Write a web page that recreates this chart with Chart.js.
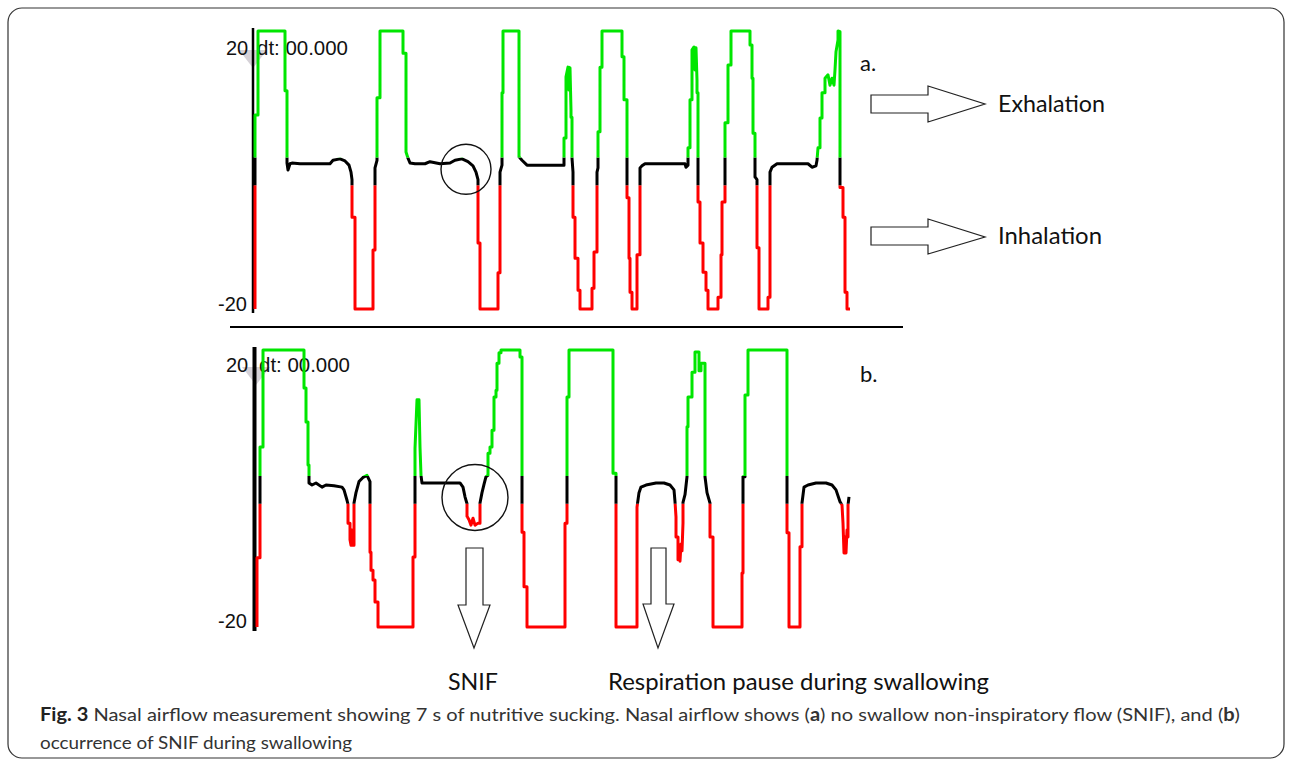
<!DOCTYPE html>
<html lang="en">
<head>
<meta charset="UTF-8">
<title>Nasal airflow measurement</title>
<script src="https://cdn.jsdelivr.net/npm/chart.js"></script>
<style>
    body { margin: 0; background: #fff; }
    #page { position: relative; width: 1292px; height: 768px; overflow: hidden; }
    .panel { position: absolute; width: 630px; height: 300px; }
    svg { position: absolute; left: 0; top: 0; pointer-events: none; }
</style>
</head>
<body>
<div id="page">
    <svg width="1292" height="768" font-family="Lato, 'Open Sans', sans-serif">
        <rect x="8" y="8" width="1276" height="750" rx="14" fill="none" stroke="#333" stroke-width="1.2"/>
        <line x1="230" y1="327" x2="903" y2="327" stroke="#000" stroke-width="2"/>

        <!-- cursor markers -->
        <polygon points="239,50 267,50 253,68" fill="#b9b2bd" opacity="0.6"/>
        <polygon points="242,367 270,367 256,385" fill="#b9b2bd" opacity="0.6"/>

        <!-- axis labels -->
        <g font-family="'Liberation Sans', Arial, sans-serif" font-size="20" fill="#111">
            <text x="226" y="55">20</text>
            <text x="257" y="55" textLength="91" lengthAdjust="spacingAndGlyphs">dt: 00.000</text>
            <text x="218" y="311">-20</text>
            <text x="226" y="372">20</text>
            <text x="259" y="372" textLength="91" lengthAdjust="spacingAndGlyphs">dt: 00.000</text>
            <text x="218" y="628">-20</text>
        </g>

        <!-- panel a annotations -->
        <text x="860" y="71" font-size="22" fill="#111">a.</text>
        <polygon points="871,95 928,95 928,86 985,104 928,122 928,113 871,113" fill="#fff" stroke="#222" stroke-width="1.2"/>
        <text x="998" y="112" font-size="23" fill="#111" textLength="107" lengthAdjust="spacingAndGlyphs">Exhalation</text>
        <polygon points="871,227 928,227 928,219 985,237 928,254 928,245 871,245" fill="#fff" stroke="#222" stroke-width="1.2"/>
        <text x="998" y="244" font-size="23" fill="#111" textLength="104" lengthAdjust="spacingAndGlyphs">Inhalation</text>

        <!-- panel b annotations -->
        <text x="860" y="382" font-size="22" fill="#111">b.</text>
        <polygon points="466,548 483,548 483,605 490,605 474,648 458,605 466,605" fill="#fff" stroke="#222" stroke-width="1.2"/>
        <polygon points="651,548 666,548 666,604 674,604 658,648 643,604 651,604" fill="#fff" stroke="#222" stroke-width="1.2"/>
        <text x="448" y="690" font-size="23" fill="#111" textLength="50" lengthAdjust="spacingAndGlyphs">SNIF</text>
        <text x="608" y="690" font-size="23" fill="#111" textLength="381" lengthAdjust="spacingAndGlyphs">Respiration pause during swallowing</text>

        <!-- caption -->
        <text x="40" y="721" font-size="18" fill="#333" textLength="1200" lengthAdjust="spacingAndGlyphs"><tspan font-weight="bold" fill="#222">Fig. 3</tspan> Nasal airflow measurement showing 7 s of nutritive sucking. Nasal airflow shows (<tspan font-weight="bold">a</tspan>) no swallow non-inspiratory flow (SNIF), and (<tspan font-weight="bold">b</tspan>)</text>
        <text x="40" y="749" font-size="18" fill="#333" textLength="312" lengthAdjust="spacingAndGlyphs">occurrence of SNIF during swallowing</text>
    </svg>

    <div class="panel" style="left:240px;top:20px"><canvas id="chartA"></canvas></div>
    <div class="panel" style="left:243px;top:339px"><canvas id="chartB"></canvas></div>
</div>

<script>
    // signal a: no SNIF (x = sample, y = flow)
    const timeA = [2,2,5,5, 32,32,34,34,34,35,37,39,47,77,80,87,92,96,98,99,99,102,102,
        120,120,122,122,124,124,127,127,
        150,150,153,153,155,157,162,172,177,187,197,202,209,215,220,223,225,225,227,227,
        245,245,247,247,249,249,250,250,
        266,266,269,274,311,311,313,313,315,316,317,318,318,319,319,320,320,322,322,325,325,327,327,
        339,339,341,341,344,344,345,345,347,347,349,349,
        369,369,371,371,374,374,376,376,377,377,379,379,384,384,387,387,389,392,
        432,433,435,435,437,437,439,439,441,442,443,444,444,445,445,447,447,450,450,453,453,455,455,465,
        465,468,468,469,469,472,472,475,475,478,478,
        497,497,499,499,500,500,502,502,504,504,506,506,515,515,517,517,519,524,
        555,559,563,564,565,567,567,569,569,572,572,575,577,579,581,582,583,585,585,587,587,590,590,592,592,594,594,597];
    const flowA = [-20,7.9,7.9,20, 20,11.4,11.4,1.7,1.0,0,0.9,1.0,0.9,0.9,1.4,1.6,1.3,0.7,-0.3,-1.4,-6.8,-6.8,-20,
        -20,-11.5,-11.5,0.3,1.4,10.4,10.4,20,
        20,16.8,16.8,2.6,1.7,1.0,0.9,0.9,1.2,0.9,1.0,1.4,1.6,1.2,0.6,-0.3,-1.4,-10.5,-10.5,-20,
        -20,-14.8,-14.8,-0.3,0.7,11.1,11.1,20,
        20,1.9,1.4,0.7,0.7,4.6,4.6,13.4,14.8,11.5,14.7,8.6,7.6,7.6,1.7,-0.3,-6.8,-6.8,-12.7,-12.7,-17.3,-17.3,-20,
        -20,-17,-17,-11.8,-11.8,-0.3,0.3,5.5,5.5,14.8,14.8,20,
        20,16.3,16.3,10.1,10.1,-4.0,-4.0,-12.7,-12.7,-17.6,-17.6,-20,-20,-12.2,-12.2,0.3,0.6,0.9,
        0.9,0.4,0.7,3.2,3.2,10.1,10.1,17.3,17.7,14.4,17.6,12.9,11.1,11.1,-4.6,-4.6,-10.5,-10.5,-14.7,-14.7,-17.3,-17.3,-20,-20,
        -18.3,-18.3,-12.2,-12.2,-4.6,-4.6,6.8,6.8,15.1,15.1,20,
        20,18,18,13.2,13.2,5.3,5.3,-1.0,-1.4,-11.2,-11.2,-20,-20,-18.3,-18.3,-0.3,0.4,0.9,
        0.9,0.4,0.6,1.4,3.2,3.2,7.5,7.5,11.1,11.1,13.2,13.7,12.2,13.2,12.2,14.4,17,18.7,20,19.9,-2.5,-2.5,-6.8,-6.8,-17.6,-17.6,-20,-20];

    // signal b: SNIF during swallowing
    const timeB = [1,1,4,4,7,7,
        48,48,50,50,52,52,53,53,56,60,66,70,78,86,88,91,92,92,94,94,95,96,97,98,98,100,103,107,111,114,114,115,115,117,117,119,119,122,122,
        157,157,159,159,161,163,164,165,166,
        204,207,209,211,211,213,215,217,219,222,224,224,226,228,230,232,232,234,234,236,236,238,238,240,240,241,241,243,243,245,245,
        264,264,266,266,268,268,271,271,
        309,309,311,311,313,313,
        357,357,360,360,
        381,381,383,385,390,400,408,414,
        418,419,420,420,422,422,423,424,425,426,427,427,429,431,431,432,432,436,436,439,439,443,443,445,445,447,449,449,451,454,454,457,457,
        486,486,487,487,489,489,492,492,
        531,531,533,533,
        544,544,546,546,548,552,560,570,576,580,584,586,587,588,589,590,591,592,592,593];
    const flowB = [-20,-10,-10,6,6,20,
        20,14.5,14.5,9.6,9.6,3.4,3.4,0.8,0.5,0.8,0.2,0.5,0.4,0.2,-0.2,-1.7,-2.3,-5.0,-5.0,-7.4,-8.2,-6.0,-8.2,-8.2,-2.1,-0.6,1.0,1.6,1.9,1.0,-9.2,-9.2,-11.8,-11.8,-13.2,-13.2,-16.4,-16.4,-20,
        -20,-9.9,-9.9,5.8,12.8,12.8,6.0,1.9,0.8,
        0.8,0.2,-1.2,-2.2,-4.0,-4.5,-5.3,-4.3,-5.3,-5.0,-5.0,-2.1,-0.6,0.6,1.7,1.9,5.1,5.1,6.0,6.0,8.4,8.4,13.2,13.2,14.2,14.2,18.1,18.1,19.6,19.6,20,
        20,19.0,19.0,-6.3,-6.3,-14.2,-14.2,-20,
        -20,-5.0,-5.0,13.2,13.2,20,
        20,2.2,2.2,-20,
        -20,-2.7,-0.6,0.2,0.5,0.8,0.8,0.5,
        -0.2,-1.9,-4.1,-7.0,-7.0,-10.3,-8.5,-10.5,-8.0,-9.0,-5.0,-2.0,-0.9,1.7,8.9,8.9,13.2,13.2,16.8,16.8,19.7,19.7,17.0,17.0,18.1,18.1,18.1,1.7,-0.6,-2.1,-7.0,-7.0,-20,
        -20,-12.2,-12.2,1.7,1.7,13.5,13.5,20,
        20,-6.4,-6.4,-20,
        -20,-8.4,-8.4,-2.1,0.2,0.5,0.8,0.8,0.5,-0.2,-1.9,-2.4,-5.0,-9.3,-7.0,-9.3,-6.0,-7.0,-2.4,-1.2];

    const yTicks = [-20, 20];
    const bandHigh = 1.8;   // above: exhalation (green)
    const bandLow = -2.2;   // below: inhalation (red)
    const bandColors = { high: '#00e600', mid: '#000000', low: '#ff0000' };

    // clip each copy of the trace to its flow band
    const bandClip = {
        id: 'bandClip',
        beforeDatasetDraw(chart, args) {
            const band = chart.data.datasets[args.index].band;
            const y = chart.scales.y;
            const hi = y.getPixelForValue(bandHigh);
            const lo = y.getPixelForValue(bandLow);
            const ctx = chart.ctx;
            ctx.save();
            ctx.beginPath();
            if (band === 'high') ctx.rect(0, 0, chart.width, hi);
            else if (band === 'mid') ctx.rect(0, hi, chart.width, lo - hi);
            else ctx.rect(0, lo, chart.width, chart.height - lo);
            ctx.clip();
        },
        afterDatasetDraw(chart) {
            chart.ctx.restore();
        }
    };

    // vertical axis line and the marking circle
    const marks = {
        id: 'marks',
        beforeDatasetsDraw(chart, args, opts) {
            const ctx = chart.ctx;
            const xs = chart.scales.x, ys = chart.scales.y;
            const x0 = xs.getPixelForValue(0) - opts.axisShift;
            ctx.save();
            ctx.strokeStyle = '#000';
            ctx.lineWidth = opts.axisWidth;
            ctx.beginPath();
            ctx.moveTo(x0, ys.getPixelForValue(yTicks[1]) - 3);
            ctx.lineTo(x0, ys.getPixelForValue(yTicks[0]) + 4);
            ctx.stroke();
            ctx.restore();
        },
        afterDatasetsDraw(chart, args, opts) {
            const ctx = chart.ctx;
            const c = opts.circle;
            ctx.save();
            ctx.strokeStyle = '#111';
            ctx.lineWidth = 1.4;
            ctx.beginPath();
            ctx.arc(chart.scales.x.getPixelForValue(c.x), chart.scales.y.getPixelForValue(c.y), c.r, 0, Math.PI * 2);
            ctx.stroke();
            ctx.restore();
        }
    };

    function makeChart(id, time, flow, circle, axisWidth, axisShift, pad) {
        const points = time.map((t, i) => ({ x: t, y: flow[i] }));
        const datasets = ['high', 'mid', 'low'].map(band => ({
            band: band,
            data: points,
            borderColor: bandColors[band],
            borderWidth: 3,
            borderJoinStyle: 'round',
            pointRadius: 0,
            tension: 0,
            clip: false
        }));
        return new Chart(document.getElementById(id), {
            type: 'line',
            data: { datasets: datasets },
            options: {
                animation: false,
                responsive: true,
                maintainAspectRatio: false,
                layout: { padding: pad },
                plugins: {
                    legend: { display: false },
                    tooltip: { enabled: false },
                    marks: { circle: circle, axisWidth: axisWidth, axisShift: axisShift }
                },
                scales: {
                    x: { type: 'linear', min: 0, max: 600, display: false },
                    y: { min: yTicks[0], max: yTicks[1], display: false }
                }
            },
            plugins: [bandClip, marks]
        });
    }

    makeChart('chartA', timeA, flowA, { x: 213, y: 0.1, r: 25 }, 2.5, 0,
        { left: 13, right: 17, top: 11, bottom: 11 });
    makeChart('chartB', timeB, flowB, { x: 219, y: -1.3, r: 33 }, 4, 1.5,
        { left: 13, right: 17, top: 11, bottom: 12 });
</script>
</body>
</html>
